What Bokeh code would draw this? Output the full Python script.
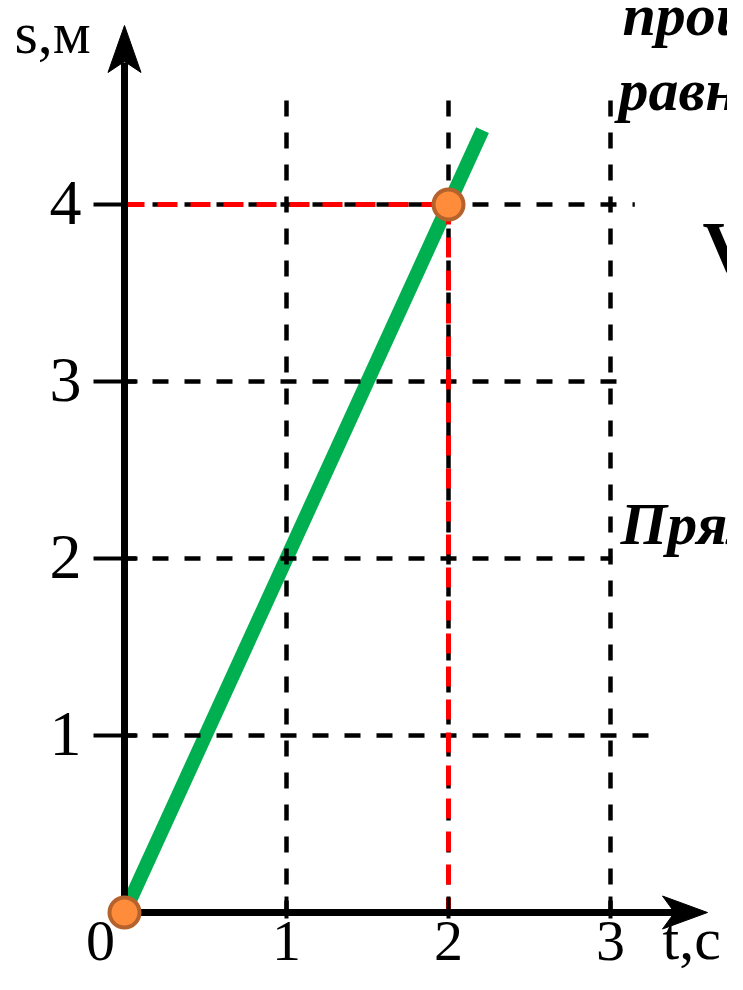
from bokeh.plotting import figure
from bokeh.models import Range1d
from bokeh.core.properties import value
from bokeh.embed import file_html
from bokeh.resources import INLINE

# ---------------- data ----------------
t_ticks = [1, 2, 3]                 # time grid lines, s
s_ticks = [1, 2, 3, 4]              # distance grid lines, m
t_labels = ["0", "1", "2", "3"]
t_label_vals = [0, 1, 2, 3]
s_labels = ["1", "2", "3", "4"]
line_t = [0.0, 2.21]                # graph s = 2 t
line_s = [0.0, 4.42]
point_t = [0, 2]                    # marked points
point_s = [0, 4]
hgrid_end_t = [3.25, 3.01, 3.05, 3.15]   # right ends of horizontal dashed lines
vgrid_top_s = [4.59, 4.67, 4.67]         # top ends of vertical dashed lines
s_axis_label = "s,м"
t_axis_label = "t,с"
side_texts = ["пройденный", "равномерном", "V", "Прямая"]

# ---------------- geometry ----------------
W, H = 727, 974
PX_T, PX_S = 162.0, 177.0           # pixels per unit
PAGE_OX, PAGE_OY = 124, 920         # origin on the reference picture
DX, DY = 0, 8                       # reference -> canvas offset
OX, OY = PAGE_OX - DX, PAGE_OY - DY
BASE_FIX = 0.355                    # baseline correction (fraction of font size)


def tx(page_x):
    return (page_x - PAGE_OX) / PX_T


def sy(page_y):
    return (PAGE_OY - page_y) / PX_S


def base_y(page_baseline, fs):
    return sy(page_baseline - BASE_FIX * fs)


p = figure(width=W, height=H, output_backend="svg", toolbar_location=None,
           x_range=Range1d(-OX / PX_T, (W - OX) / PX_T),
           y_range=Range1d(-(H - OY) / PX_S, OY / PX_S),
           x_axis_type=None, y_axis_type=None, min_border=0,
           outline_line_color=None, background_fill_color="white",
           border_fill_color="white")
p.grid.visible = False

SERIF = value("Liberation Serif")

# green graph
p.line(line_t, line_s, line_width=14, color="#00b050", line_cap="butt")

# black dashed grid
p.multi_line(xs=[[0, e] for e in hgrid_end_t], ys=[[s, s] for s in s_ticks],
             line_color="black", line_width=4.5, line_dash="16 16",
             line_dash_offset=4)
p.multi_line(xs=[[t, t] for t in t_ticks], ys=[[0, top] for top in vgrid_top_s],
             line_color="black", line_width=4.5, line_dash="16 16",
             line_dash_offset=4)

# red dashed projections of the point (2, 4)
pt, ps = point_t[1], point_s[1]
p.multi_line(xs=[[0, pt], [pt, pt]], ys=[[ps, ps], [ps, 0]],
             line_color="#ff0000", line_width=5, line_dash="20 13")

# axes
p.segment(x0=[0], y0=[sy(924)], x1=[0], y1=[sy(70)], line_color="black",
          line_width=7, line_cap="butt")
p.segment(x0=[tx(118)], y0=[0], x1=[tx(674)], y1=[0], line_color="black",
          line_width=7, line_cap="butt")

# arrowheads (sizes in pixels converted to data units)
hw_x = 16.5 / PX_T
hw_y = 16.5 / PX_S
p.patches(xs=[[0, hw_x, 0, -hw_x],
              [tx(707), tx(662), tx(674), tx(662)]],
          ys=[[sy(33), sy(80), sy(69), sy(80)],
              [0, hw_y, 0, -hw_y]],
          fill_color="black", line_color="black", line_width=1)

# tick marks
p.segment(x0=[tx(93)] * len(s_ticks), y0=s_ticks,
          x1=[tx(137) if s < 4 else 0 for s in s_ticks], y1=s_ticks,
          line_color="black", line_width=4, line_cap="butt")
p.segment(x0=t_ticks, y0=[sy(904)] * len(t_ticks), x1=t_ticks,
          y1=[sy(926)] * len(t_ticks), line_color="black", line_width=4,
          line_cap="butt")

# points
p.scatter(point_t, point_s, size=30, fill_color="#ff8c3a",
          line_color="#b5622c", line_width=4)

# tick labels
FS_TICK = 64
FS_TICK_X = 58
p.text(x=[tx(81)] * len(s_ticks),
       y=[s + (BASE_FIX * FS_TICK - 21.5) / PX_S for s in s_ticks],
       text=s_labels, text_font=SERIF, text_font_size=f"{FS_TICK}px",
       text_align="right", text_baseline="alphabetic", text_color="black")
p.text(x=[tx(100)] + t_label_vals[1:], y=[base_y(969, FS_TICK_X)] * len(t_labels),
       text=t_labels, text_font=SERIF, text_font_size=f"{FS_TICK_X}px",
       text_align="center", text_baseline="alphabetic", text_color="black")

# axis labels
FS_AX = 60
p.text(x=[tx(14)], y=[base_y(62, FS_AX)], text=[s_axis_label], text_font=SERIF,
       text_font_size=f"{FS_AX}px", text_align="left", text_baseline="alphabetic",
       text_color="black")
p.text(x=[tx(662)], y=[base_y(968, FS_AX)], text=[t_axis_label], text_font=SERIF,
       text_font_size=f"{FS_AX}px", text_align="left", text_baseline="alphabetic",
       text_color="black")

# side texts (cut by the right edge as in the original)
FS_SIDE = 60
p.text(x=[tx(622), tx(618), tx(620)],
       y=[base_y(44, FS_SIDE), base_y(119, FS_SIDE), base_y(553, FS_SIDE)],
       text=[side_texts[0], side_texts[1], side_texts[3]], text_font=SERIF,
       text_font_size=f"{FS_SIDE}px", text_font_style="bold italic",
       text_align="left", text_baseline="alphabetic", text_color="black")
FS_V = 72
p.text(x=[tx(702)], y=[base_y(280, FS_V)], text=[side_texts[2]], text_font=SERIF,
       text_font_size=f"{FS_V}px", text_font_style="bold",
       text_align="left", text_baseline="alphabetic", text_color="black")

open("out.html", "w").write(file_html(p, INLINE))
